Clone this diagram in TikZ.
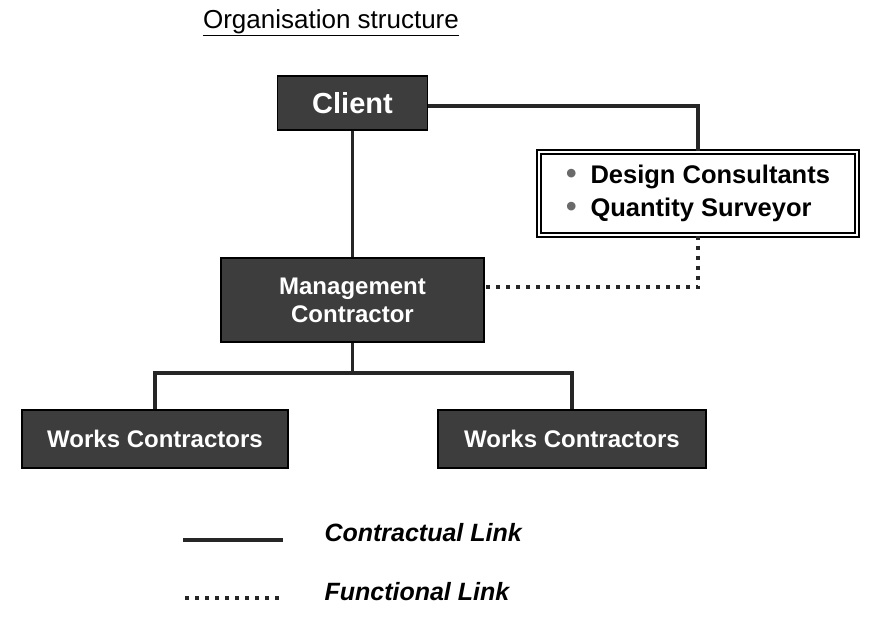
\documentclass[tikz,border=0pt]{standalone}
\usepackage{fontspec}
\setmainfont{Liberation Sans}
\usepackage{tikz}
\usetikzlibrary{positioning,calc}
\definecolor{slate}{HTML}{3D3D3D}
\definecolor{dotgray}{HTML}{6A6A6A}
\newcommand\listdot{{\color{dotgray}\fontsize{30}{33}\selectfont\textbullet}\hspace{14pt}}
\tikzset{orgbox/.style={draw=black,line width=1.6pt,fill=slate,text=white,align=center,font=\bfseries,inner sep=0pt},listbox/.style={draw=black,line width=1.3pt,double=white,double distance=2.6pt,fill=white,align=left,inner sep=0pt},conlink/.style={line width=3.8pt,draw=black!85},funlink/.style={line width=3.8pt,draw=black!85,dash pattern=on 4pt off 6pt}}

\begin{document}
\begin{tikzpicture}[x=1pt,y=-1pt]
\useasboundingbox (0,0) rectangle (882,622);
\node[anchor=base,font=\fontsize{26}{30}\selectfont] (title) at (331,28) {\underline{Organisation structure}};
% boxes
\node[orgbox,minimum width=150pt,minimum height=54pt,font=\bfseries\fontsize{29}{34}\selectfont] (client) at (352.5,103) {Client};
\node[listbox,minimum width=318pt,minimum height=83pt,font=\bfseries\fontsize{25.5}{33}\selectfont] (consult) at (698,193.5) {\listdot Design Consultants\\\listdot Quantity Surveyor};
\node[orgbox,minimum width=263pt,minimum height=84pt,font=\bfseries\fontsize{24}{28}\selectfont] (mgmt) at (352.5,300) {Management\\Contractor};
\node[orgbox,minimum width=266pt,minimum height=58pt,font=\bfseries\fontsize{24}{28}\selectfont] (worksL) at (155,439) {Works Contractors};
\node[orgbox,minimum width=268pt,minimum height=58pt,font=\bfseries\fontsize{24}{28}\selectfont] (worksR) at (572,439) {Works Contractors};
% links
\coordinate (split) at ($(mgmt.south)+(0,30)$);
\draw[conlink] (client.south) -- (mgmt.north);
\draw[conlink] ([yshift=-3pt]client.east) -| (consult.north);
\draw[funlink] (consult.south) |- ($(mgmt.north east)!0.35!(mgmt.south east)$);
\draw[conlink] (mgmt.south) -- (split);
\draw[conlink] (worksL.north) |- (split) -| (worksR.north);
% legend
\node[anchor=west,font=\bfseries\itshape\fontsize{25}{30}\selectfont] (conkey) at (321,533) {Contractual Link};
\node[anchor=west,font=\bfseries\itshape\fontsize{25}{30}\selectfont] (funkey) at (321,592) {Functional Link};
\coordinate (conA) at (183,540);
\coordinate (conB) at (283,540);
\coordinate (funA) at (185,598);
\coordinate (funB) at (282,598);
\draw[conlink] (conA) -- (conB);
\draw[funlink] (funA) -- (funB);
\end{tikzpicture}
\end{document}
